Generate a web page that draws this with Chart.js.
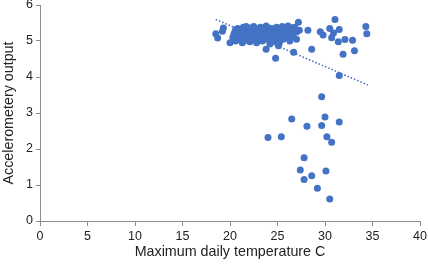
<!DOCTYPE html>
<html>
<head>
<meta charset="utf-8">
<script src="https://cdn.jsdelivr.net/npm/chart.js@4"></script>
<style>
  html, body { margin: 0; padding: 0; background: #fff; }
  #wrap { width: 428px; height: 265px; position: relative; }
</style>
</head>
<body>
<div id="wrap"><canvas id="chart-scatter"></canvas></div>
<script>
// max daily temperature (C) and accelerometery output, paired by index
var tempC = [
    18.5, 18.7, 19.2, 19.3, 20.0,
    20.3, 20.5, 20.6, 20.8, 20.9, 21.0, 21.1, 21.2, 21.3, 21.4, 21.5, 21.6, 21.7, 21.8, 21.9,
    22.0, 22.1, 22.2, 22.3, 22.4, 22.5, 22.6, 22.7, 22.8, 22.9, 23.0, 23.1, 23.2, 23.3, 23.4,
    23.5, 23.6, 23.7, 23.8, 23.9, 24.0, 24.1, 24.2, 24.3, 24.4, 24.5, 24.6, 24.7, 24.8, 24.9,
    25.0, 25.1, 25.2, 25.3, 25.4, 25.5, 25.6, 25.7, 25.8, 25.9, 26.0, 26.1, 26.2, 26.3, 26.5,
    26.6, 26.8, 27.0, 27.3,
    21.5, 22.0, 22.5, 23.0, 23.5, 24.0, 24.5, 25.0, 25.5, 26.0, 22.2, 23.8, 24.8, 21.2, 20.7,
    20.4, 20.9, 21.4, 21.8, 22.3, 22.7, 23.2, 23.6, 24.1, 24.6, 25.1, 25.6, 26.1, 26.4, 26.9,
    20.6, 21.1, 21.7, 22.4, 22.9, 23.4, 24.2, 24.7, 25.3, 25.8, 26.3, 24.4, 23.1, 22.1, 25.7,
    23.8, 24.8, 25.1, 26.7, 27.0, 27.2,
    28.2, 29.5, 29.8, 30.5, 30.9, 31.05, 31.5, 30.7, 31.4, 32.1, 32.9, 33.1, 31.9, 28.6,
    34.3, 34.4, 31.5,
    29.65, 26.5, 30.0, 28.1, 29.65, 31.5, 24.0, 25.4, 30.2, 30.7, 27.8, 27.4, 30.1, 27.8,
    28.6, 29.2, 30.5
];
var accel = [
    5.20, 5.08, 5.27, 5.36, 4.95,
    5.10, 5.25, 5.00, 5.35, 5.15, 5.30, 5.05, 5.20, 4.95, 5.38, 5.12, 5.28, 5.02, 5.22, 5.35,
    5.10, 4.98, 5.30, 5.18, 5.05, 5.40, 5.25, 5.12, 4.95, 5.32, 5.20, 5.08, 5.38, 5.15, 5.00,
    5.28, 5.22, 5.10, 5.42, 5.05, 5.30, 5.18, 4.92, 5.25, 5.35, 5.12, 5.00, 5.28, 5.20, 5.38,
    5.08, 5.30, 4.95, 5.22, 5.15, 5.40, 5.05, 5.28, 5.35, 5.18, 5.10, 5.42, 5.25, 5.00, 5.32,
    5.20, 5.38, 5.25, 5.30,
    5.20, 5.25, 5.15, 5.30, 5.10, 5.20, 5.25, 5.22, 5.15, 5.30, 5.10, 5.20, 5.05, 5.30, 5.20,
    5.18, 5.08, 5.24, 5.12, 5.36, 5.04, 5.26, 5.14, 5.36, 5.18, 5.12, 5.34, 5.22, 5.14, 5.32,
    5.32, 5.14, 5.40, 5.22, 5.06, 5.34, 5.08, 5.14, 5.30, 5.24, 5.38, 5.02, 5.24, 5.36, 5.10,
    4.77, 4.52, 4.87, 4.69, 5.05, 5.52,
    5.30, 5.26, 5.17, 5.35, 5.22, 5.60, 5.32, 5.09, 4.98, 5.04, 5.02, 4.73, 4.63, 4.77,
    5.40, 5.20, 4.04,
    3.45, 2.83, 2.89, 2.63, 2.65, 2.75, 2.32, 2.34, 2.34, 2.19, 1.76, 1.42, 1.39, 1.15,
    1.26, 0.91, 0.61
];
// linear trend line end points
var trendX = [18.5, 34.5];
var trendY = [5.60, 3.78];

var xTicks = [0, 5, 10, 15, 20, 25, 30, 35, 40];
var yTicks = [0, 1, 2, 3, 4, 5, 6];

var pts = tempC.map(function(t, i) { return { x: t, y: accel[i] }; });
var trend = trendX.map(function(t, i) { return { x: t, y: trendY[i] }; });

var axisGrey = "#8c8c8c";
var ctx = document.getElementById("chart-scatter");
var myChart = new Chart(ctx, {
    type: 'scatter',
    data: {
        datasets: [
            {
                label: "Accelerometery output",
                data: pts,
                backgroundColor: '#4472c4',
                borderColor: '#4472c4',
                pointRadius: 3.5,
                pointBorderWidth: 0
            }, {
                type: 'line',
                label: 'Linear trend',
                data: trend,
                borderColor: '#4472c4',
                borderWidth: 1.6,
                borderDash: [1.5, 2],
                pointRadius: 0,
                fill: false
            }
        ]
    },
    options: {
        responsive: true,
        maintainAspectRatio: false,
        animation: false,
        layout: { padding: { top: 5, right: 8, left: 0, bottom: 0 } },
        plugins: {
            legend: { display: false },
            tooltip: { enabled: false }
        },
        scales: {
            x: {
                type: 'linear',
                min: 0, max: 40,
                afterBuildTicks: function(axis) { axis.ticks = xTicks.map(function(v) { return { value: v }; }); },
                afterFit: function(axis) { axis.height = 44; axis.paddingRight = 0; axis.paddingLeft = 0; },
                grid: { drawOnChartArea: false, drawTicks: true, tickLength: 5, color: axisGrey },
                border: { color: axisGrey, width: 1 },
                ticks: { color: '#222', font: { family: 'Liberation Sans', size: 12.5 }, padding: 3 },
                title: {
                    display: true,
                    text: 'Maximum daily temperature C',
                    color: '#222',
                    font: { family: 'Liberation Sans', size: 14.3 },
                    padding: { top: 1, bottom: 4 }
                }
            },
            y: {
                min: 0, max: 6,
                afterBuildTicks: function(axis) { axis.ticks = yTicks.map(function(v) { return { value: v }; }); },
                afterFit: function(axis) { axis.width = 40; axis.paddingTop = 0; axis.paddingBottom = 0; },
                grid: { drawOnChartArea: false, drawTicks: true, tickLength: 4, color: axisGrey },
                border: { color: axisGrey, width: 1 },
                ticks: { color: '#222', font: { family: 'Liberation Sans', size: 12.5 }, padding: 3 },
                title: {
                    display: true,
                    text: 'Accelerometery output',
                    color: '#222',
                    font: { family: 'Liberation Sans', size: 14.3 },
                    padding: { top: 0, bottom: 1 }
                }
            }
        }
    }
});
</script>
</body>
</html>
